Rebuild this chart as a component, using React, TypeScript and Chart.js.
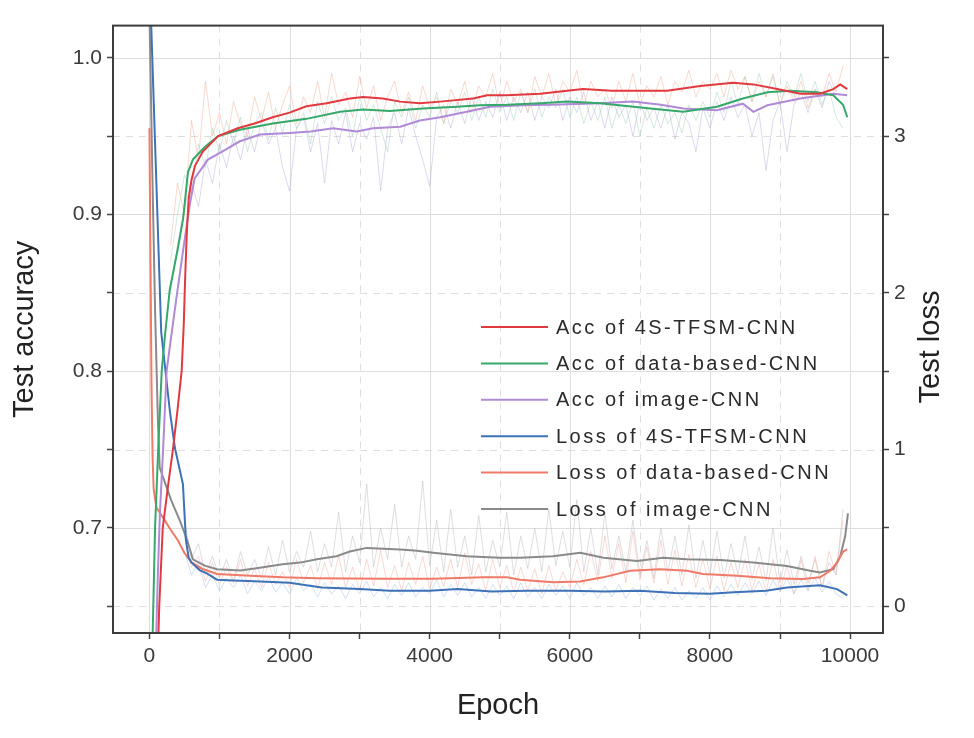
import React, { useEffect, useRef } from 'react';
import { Chart, registerables } from 'chart.js';

Chart.register(...registerables);

const FONT = '"Liberation Sans", Arial, Helvetica, sans-serif';

// ---- Axis ticks ----
const epochTicks = [0, 1000, 2000, 3000, 4000, 5000, 6000, 7000, 8000, 9000, 10000];
const epochLabels = [0, 2000, 4000, 6000, 8000, 10000];
const epochMinorGrid = [1000, 3000, 5000, 7000, 9000];
const accTicks = [0.65, 0.7, 0.75, 0.8, 0.85, 0.9, 0.95, 1.0];
const accLabels = [0.7, 0.8, 0.9, 1.0];
const lossTicks = [0, 0.5, 1, 1.5, 2, 2.5, 3, 3.5];
const lossLabels = [0, 1, 2, 3];

// ---- Smoothed series ----
const acc4sEpochs = [120, 140, 190, 260, 335, 400, 460, 490, 510, 535, 560, 600, 650, 760, 980, 1260, 1500, 1760, 2000, 2240, 2530, 2860, 3050, 3330, 3580, 3860, 4150, 4620, 4820, 5100, 5580, 5960, 6190, 6600, 7000, 7390, 7860, 8330, 8620, 8960, 9290, 9570, 9760, 9860, 9960];
const acc4sValues = [0.62, 0.65, 0.70, 0.725, 0.75, 0.775, 0.80, 0.83, 0.86, 0.89, 0.91, 0.922, 0.931, 0.94, 0.95, 0.955, 0.958, 0.962, 0.965, 0.969, 0.971, 0.974, 0.975, 0.974, 0.972, 0.971, 0.972, 0.974, 0.976, 0.976, 0.977, 0.979, 0.980, 0.979, 0.979, 0.979, 0.982, 0.984, 0.983, 0.980, 0.977, 0.977, 0.980, 0.983, 0.980];

const accDataEpochs = [40, 55, 80, 125, 175, 220, 290, 400, 480, 550, 620, 790, 980, 1290, 1760, 2240, 2720, 3050, 3430, 3900, 4390, 4720, 5100, 5580, 5960, 6430, 7150, 7620, 8100, 8470, 8820, 9140, 9530, 9760, 9900, 9960];
const accDataValues = [0.62, 0.65, 0.70, 0.75, 0.80, 0.822, 0.852, 0.877, 0.897, 0.927, 0.935, 0.943, 0.95, 0.954, 0.958, 0.961, 0.9655, 0.967, 0.966, 0.9676, 0.9687, 0.9697, 0.970, 0.971, 0.972, 0.971, 0.9676, 0.9655, 0.9687, 0.974, 0.978, 0.979, 0.978, 0.976, 0.970, 0.962];

const accImageEpochs = [90, 120, 150, 195, 245, 310, 380, 480, 575, 645, 835, 1075, 1290, 1580, 2000, 2300, 2620, 2960, 3190, 3580, 3860, 4150, 4530, 4860, 5330, 5720, 6430, 6900, 7300, 7620, 8100, 8470, 8620, 8820, 9290, 9760, 9960];
const accImageValues = [0.62, 0.67, 0.71, 0.75, 0.80, 0.822, 0.845, 0.877, 0.906, 0.923, 0.935, 0.941, 0.9467, 0.951, 0.952, 0.953, 0.955, 0.953, 0.955, 0.956, 0.960, 0.962, 0.9655, 0.9687, 0.9697, 0.970, 0.971, 0.972, 0.970, 0.9676, 0.9665, 0.9707, 0.9655, 0.9697, 0.974, 0.977, 0.976];

const loss4sEpochs = [0, 26, 97, 168, 293, 364, 478, 521, 560, 600, 720, 820, 964, 1200, 1500, 2000, 2460, 3000, 3430, 4000, 4400, 4880, 5380, 6000, 6500, 7000, 7500, 8000, 8340, 8800, 9100, 9570, 9815, 9960];
const loss4sValues = [4.3, 3.70, 2.73, 1.75, 1.24, 1.01, 0.78, 0.42, 0.31, 0.28, 0.23, 0.21, 0.17, 0.165, 0.16, 0.15, 0.12, 0.11, 0.10, 0.10, 0.11, 0.095, 0.10, 0.10, 0.095, 0.10, 0.085, 0.08, 0.09, 0.10, 0.12, 0.135, 0.11, 0.07];

const lossDataEpochs = [0, 15, 30, 45, 60, 100, 217, 300, 407, 500, 600, 750, 964, 1435, 1906, 2391, 3333, 4047, 4761, 5104, 5290, 5761, 6146, 6475, 6860, 7288, 7674, 7902, 8387, 8859, 9330, 9572, 9715, 9815, 9901, 9958];
const lossDataValues = [3.05, 2.2, 1.4, 0.95, 0.75, 0.63, 0.55, 0.49, 0.42, 0.34, 0.28, 0.24, 0.206, 0.196, 0.185, 0.179, 0.176, 0.176, 0.185, 0.185, 0.17, 0.154, 0.158, 0.185, 0.227, 0.237, 0.227, 0.206, 0.196, 0.179, 0.174, 0.185, 0.227, 0.279, 0.35, 0.363];

const lossImageEpochs = [0, 40, 80, 120, 146, 311, 440, 540, 620, 790, 964, 1300, 1600, 1900, 2150, 2390, 2670, 2860, 3100, 3580, 3820, 4050, 4530, 5000, 5290, 5760, 6150, 6480, 6960, 7330, 7670, 8150, 8620, 9100, 9430, 9570, 9760, 9860, 9930, 9970];
const lossImageValues = [3.8, 2.8, 1.9, 1.2, 0.886, 0.676, 0.54, 0.42, 0.30, 0.26, 0.237, 0.229, 0.248, 0.269, 0.279, 0.30, 0.32, 0.35, 0.373, 0.363, 0.354, 0.342, 0.32, 0.31, 0.31, 0.32, 0.342, 0.31, 0.29, 0.31, 0.30, 0.296, 0.279, 0.258, 0.227, 0.216, 0.237, 0.32, 0.447, 0.593];

// ---- Raw (unsmoothed) series ----
const rawAccEpochs = [
  300, 400, 500, 600, 700, 800, 900, 1000, 1100, 1200,
  1300, 1400, 1500, 1600, 1700, 1800, 1900, 2000, 2100, 2200,
  2300, 2400, 2500, 2600, 2700, 2800, 2900, 3000, 3100, 3200,
  3300, 3400, 3500, 3600, 3700, 3800, 3900, 4000, 4100, 4200,
  4300, 4400, 4500, 4600, 4700, 4800, 4900, 5000, 5100, 5200,
  5300, 5400, 5500, 5600, 5700, 5800, 5900, 6000, 6100, 6200,
  6300, 6400, 6500, 6600, 6700, 6800, 6900, 7000, 7100, 7200,
  7300, 7400, 7500, 7600, 7700, 7800, 7900, 8000, 8100, 8200,
  8300, 8400, 8500, 8600, 8700, 8800, 8900, 9000, 9100, 9200,
  9300, 9400, 9500, 9600, 9700, 9800, 9900,
];
const rawAcc4s = [
  0.88, 0.92, 0.90, 0.96, 0.935, 0.985, 0.95, 0.965, 0.945, 0.972,
  0.958, 0.95, 0.975, 0.96, 0.978, 0.955, 0.97, 0.982, 0.958, 0.975,
  0.965, 0.985, 0.962, 0.99, 0.97, 0.978, 0.962, 0.988, 0.968, 0.982,
  0.96, 0.975, 0.985, 0.965, 0.978, 0.96, 0.982, 0.968, 0.975, 0.958,
  0.98, 0.97, 0.985, 0.965, 0.982, 0.975, 0.99, 0.968, 0.985, 0.972,
  0.98, 0.965, 0.988, 0.975, 0.99, 0.97, 0.985, 0.978, 0.992, 0.97,
  0.985, 0.975, 0.98, 0.968, 0.985, 0.972, 0.99, 0.97, 0.982, 0.975,
  0.988, 0.97, 0.985, 0.978, 0.992, 0.975, 0.985, 0.98, 0.99, 0.975,
  0.992, 0.98, 0.988, 0.972, 0.985, 0.975, 0.99, 0.97, 0.982, 0.972,
  0.985, 0.968, 0.98, 0.975, 0.99, 0.978, 0.995,
];
const rawAccData = [
  0.87, 0.90, 0.925, 0.915, 0.945, 0.93, 0.955, 0.94, 0.96, 0.945,
  0.962, 0.94, 0.958, 0.965, 0.948, 0.968, 0.952, 0.97, 0.955, 0.965,
  0.945, 0.972, 0.958, 0.975, 0.96, 0.968, 0.95, 0.975, 0.96, 0.97,
  0.955, 0.94, 0.972, 0.962, 0.975, 0.955, 0.97, 0.962, 0.978, 0.958,
  0.972, 0.965, 0.978, 0.96, 0.975, 0.962, 0.98, 0.965, 0.975, 0.96,
  0.978, 0.965, 0.98, 0.962, 0.975, 0.968, 0.98, 0.962, 0.975, 0.958,
  0.972, 0.96, 0.975, 0.955, 0.97, 0.958, 0.972, 0.95, 0.968, 0.955,
  0.97, 0.958, 0.965, 0.952, 0.97, 0.96, 0.972, 0.962, 0.978, 0.965,
  0.985, 0.97, 0.988, 0.972, 0.99, 0.975, 0.988, 0.97, 0.985, 0.975,
  0.99, 0.972, 0.985, 0.97, 0.98, 0.962, 0.955,
];
const rawAccImage = [
  0.85, 0.88, 0.905, 0.92, 0.905, 0.935, 0.92, 0.945, 0.93, 0.95,
  0.935, 0.955, 0.94, 0.96, 0.945, 0.955, 0.93, 0.915, 0.955, 0.962,
  0.94, 0.958, 0.92, 0.96, 0.945, 0.965, 0.94, 0.958, 0.948, 0.962,
  0.915, 0.955, 0.965, 0.945, 0.968, 0.95, 0.935, 0.918, 0.962, 0.97,
  0.955, 0.972, 0.958, 0.975, 0.96, 0.972, 0.962, 0.978, 0.96, 0.975,
  0.965, 0.978, 0.96, 0.975, 0.968, 0.98, 0.96, 0.975, 0.965, 0.978,
  0.96, 0.972, 0.955, 0.975, 0.962, 0.97, 0.95, 0.972, 0.96, 0.968,
  0.955, 0.97, 0.948, 0.965, 0.958, 0.94, 0.968, 0.955, 0.972, 0.96,
  0.975, 0.962, 0.97, 0.95, 0.965, 0.928, 0.96, 0.972, 0.94, 0.97,
  0.978, 0.965, 0.98, 0.968, 0.985, 0.975, 0.97,
];

const rawLossEpochs = [
  500, 600, 700, 800, 900, 1000, 1100, 1200, 1300, 1400,
  1500, 1600, 1700, 1800, 1900, 2000, 2100, 2200, 2300, 2400,
  2500, 2600, 2700, 2800, 2900, 3000, 3100, 3200, 3300, 3400,
  3500, 3600, 3700, 3800, 3900, 4000, 4100, 4200, 4300, 4400,
  4500, 4600, 4700, 4800, 4900, 5000, 5100, 5200, 5300, 5400,
  5500, 5600, 5700, 5800, 5900, 6000, 6100, 6200, 6300, 6400,
  6500, 6600, 6700, 6800, 6900, 7000, 7100, 7200, 7300, 7400,
  7500, 7600, 7700, 7800, 7900, 8000, 8100, 8200, 8300, 8400,
  8500, 8600, 8700, 8800, 8900, 9000, 9100, 9200, 9300, 9400,
  9500, 9600, 9700, 9800, 9900,
];
const rawLoss4s = [
  0.35, 0.2, 0.28, 0.12, 0.2, 0.1, 0.18, 0.12, 0.2, 0.08,
  0.16, 0.1, 0.19, 0.09, 0.15, 0.08, 0.18, 0.1, 0.14, 0.06,
  0.15, 0.08, 0.13, 0.05, 0.14, 0.08, 0.16, 0.06, 0.12, 0.05,
  0.14, 0.07, 0.15, 0.06, 0.12, 0.08, 0.17, 0.06, 0.14, 0.07,
  0.15, 0.06, 0.12, 0.05, 0.14, 0.07, 0.13, 0.05, 0.15, 0.06,
  0.12, 0.05, 0.14, 0.07, 0.13, 0.05, 0.15, 0.07, 0.12, 0.05,
  0.13, 0.06, 0.14, 0.05, 0.12, 0.07, 0.13, 0.04, 0.11, 0.05,
  0.12, 0.04, 0.1, 0.05, 0.12, 0.04, 0.13, 0.06, 0.14, 0.07,
  0.15, 0.08, 0.16, 0.07, 0.17, 0.09, 0.18, 0.08, 0.17, 0.1,
  0.18, 0.09, 0.16, 0.08, 0.05,
];
const rawLossData = [
  0.45, 0.25, 0.32, 0.16, 0.28, 0.14, 0.25, 0.15, 0.3, 0.13,
  0.24, 0.12, 0.28, 0.14, 0.22, 0.12, 0.3, 0.15, 0.26, 0.11,
  0.28, 0.14, 0.32, 0.12, 0.25, 0.1, 0.3, 0.13, 0.36, 0.12,
  0.26, 0.1, 0.28, 0.14, 0.32, 0.11, 0.25, 0.13, 0.3, 0.12,
  0.34, 0.14, 0.27, 0.1, 0.3, 0.12, 0.26, 0.09, 0.25, 0.1,
  0.24, 0.08, 0.26, 0.1, 0.22, 0.12, 0.3, 0.14, 0.35, 0.16,
  0.45, 0.18, 0.4, 0.15, 0.48, 0.17, 0.38, 0.15, 0.42, 0.14,
  0.36, 0.13, 0.33, 0.12, 0.3, 0.11, 0.32, 0.1, 0.28, 0.12,
  0.3, 0.1, 0.27, 0.09, 0.3, 0.1, 0.26, 0.08, 0.3, 0.1,
  0.32, 0.12, 0.35, 0.2, 0.55,
];
const rawLossImage = [
  0.55, 0.3, 0.4, 0.2, 0.32, 0.18, 0.3, 0.16, 0.35, 0.2,
  0.3, 0.18, 0.38, 0.2, 0.42, 0.22, 0.35, 0.25, 0.48, 0.22,
  0.4, 0.25, 0.6, 0.22, 0.45, 0.28, 0.78, 0.25, 0.5, 0.3,
  0.65, 0.25, 0.45, 0.3, 0.8, 0.26, 0.55, 0.22, 0.62, 0.25,
  0.45, 0.2, 0.58, 0.22, 0.42, 0.25, 0.6, 0.2, 0.45, 0.24,
  0.5, 0.22, 0.62, 0.26, 0.48, 0.25, 0.68, 0.22, 0.5, 0.2,
  0.6, 0.24, 0.45, 0.22, 0.55, 0.2, 0.42, 0.18, 0.5, 0.22,
  0.45, 0.2, 0.52, 0.18, 0.42, 0.2, 0.48, 0.18, 0.4, 0.2,
  0.45, 0.17, 0.38, 0.16, 0.5, 0.15, 0.36, 0.14, 0.32, 0.15,
  0.3, 0.12, 0.28, 0.2, 0.62,
];

const seriesNames = [
  'Acc of 4S-TFSM-CNN',
  'Acc of data-based-CNN',
  'Acc of image-CNN',
  'Loss of 4S-TFSM-CNN',
  'Loss of data-based-CNN',
  'Loss of image-CNN',
];
const seriesColors = ['#e2393f', '#35a86a', '#b08ad6', '#3e72b6', '#f07a68', '#8a8a8a'];
const rawColors = [
  'rgba(240,165,140,0.42)',
  'rgba(140,200,165,0.38)',
  'rgba(175,165,215,0.42)',
  'rgba(150,180,230,0.42)',
  'rgba(240,165,155,0.42)',
  'rgba(185,185,195,0.48)',
];

const pts = (xs: number[], ys: number[]) => xs.map((x, i) => ({ x, y: ys[i] }));

const gridPlugin = {
  id: 'customGrid',
  beforeDatasetsDraw(chart: any) {
    const { ctx, chartArea, scales } = chart;
    const { left, right, top, bottom } = chartArea;
    ctx.save();
    ctx.beginPath();
    ctx.rect(left, top, right - left, bottom - top);
    ctx.clip();
    ctx.lineWidth = 1;
    ctx.strokeStyle = '#dedede';
    ctx.setLineDash([]);
    epochLabels.forEach((v) => {
      const x = Math.round(scales.x.getPixelForValue(v)) + 0.5;
      ctx.beginPath(); ctx.moveTo(x, top); ctx.lineTo(x, bottom); ctx.stroke();
    });
    accLabels.forEach((v) => {
      const y = Math.round(scales.y.getPixelForValue(v)) + 0.5;
      ctx.beginPath(); ctx.moveTo(left, y); ctx.lineTo(right, y); ctx.stroke();
    });
    ctx.setLineDash([7, 6]);
    epochMinorGrid.forEach((v) => {
      const x = Math.round(scales.x.getPixelForValue(v)) + 0.5;
      ctx.beginPath(); ctx.moveTo(x, top); ctx.lineTo(x, bottom); ctx.stroke();
    });
    lossLabels.forEach((v) => {
      const y = Math.round(scales.y1.getPixelForValue(v)) + 0.5;
      ctx.beginPath(); ctx.moveTo(left, y); ctx.lineTo(right, y); ctx.stroke();
    });
    ctx.restore();
  },
};

const framePlugin = {
  id: 'frame',
  afterDatasetsDraw(chart: any) {
    const { ctx, chartArea } = chart;
    const { left, right, top, bottom } = chartArea;
    ctx.save();
    ctx.strokeStyle = '#3c3c3c';
    ctx.lineWidth = 2;
    ctx.strokeRect(left, top, right - left, bottom - top);
    ctx.restore();
  },
};

const legendPlugin = {
  id: 'insideLegend',
  afterDatasetsDraw(chart: any) {
    const { ctx } = chart;
    ctx.save();
    ctx.font = `20px ${FONT}`;
    (ctx as any).letterSpacing = '2.5px';
    ctx.textBaseline = 'middle';
    ctx.textAlign = 'left';
    for (let i = 0; i < seriesNames.length; i++) {
      const ds = chart.data.datasets[i];
      const y = 319 + i * 36.4;
      ctx.strokeStyle = ds.borderColor;
      ctx.lineWidth = 2;
      ctx.beginPath();
      ctx.moveTo(473, y);
      ctx.lineTo(540, y);
      ctx.stroke();
      ctx.fillStyle = '#2a2a2a';
      ctx.fillText(ds.label, 548, y + 1);
    }
    ctx.restore();
  },
};

const rightTitlePlugin = {
  id: 'rightTitle',
  afterDraw(chart: any) {
    const { ctx } = chart;
    ctx.save();
    ctx.translate(923, 339);
    ctx.rotate(-Math.PI / 2);
    ctx.font = `29px ${FONT}`;
    ctx.fillStyle = '#222';
    ctx.textAlign = 'center';
    ctx.textBaseline = 'middle';
    ctx.fillText('Test loss', 0, 0);
    ctx.restore();
  },
};

export default function App() {
  const canvasRef = useRef<HTMLCanvasElement | null>(null);

  useEffect(() => {
    if (!canvasRef.current) return;
    const smooth = [
      { data: pts(acc4sEpochs, acc4sValues), axis: 'y' },
      { data: pts(accDataEpochs, accDataValues), axis: 'y' },
      { data: pts(accImageEpochs, accImageValues), axis: 'y' },
      { data: pts(loss4sEpochs, loss4sValues), axis: 'y1' },
      { data: pts(lossDataEpochs, lossDataValues), axis: 'y1' },
      { data: pts(lossImageEpochs, lossImageValues), axis: 'y1' },
    ].map((s, i) => ({
      label: seriesNames[i],
      data: s.data,
      yAxisID: s.axis,
      borderColor: seriesColors[i],
      borderWidth: 2,
      pointRadius: 0,
      fill: false,
      order: 0,
    }));
    const raw = [
      { data: pts(rawAccEpochs, rawAcc4s), axis: 'y' },
      { data: pts(rawAccEpochs, rawAccData), axis: 'y' },
      { data: pts(rawAccEpochs, rawAccImage), axis: 'y' },
      { data: pts(rawLossEpochs, rawLoss4s), axis: 'y1' },
      { data: pts(rawLossEpochs, rawLossData), axis: 'y1' },
      { data: pts(rawLossEpochs, rawLossImage), axis: 'y1' },
    ].map((s, i) => ({
      label: 'raw ' + seriesNames[i],
      data: s.data,
      yAxisID: s.axis,
      borderColor: rawColors[i],
      borderWidth: 1,
      pointRadius: 0,
      fill: false,
      order: 1,
    }));

    const tickFont = { family: FONT, size: 21 };
    const titleFont = { family: FONT, size: 29 };
    const gridOpts = {
      display: true,
      drawOnChartArea: false,
      drawTicks: true,
      tickLength: 6,
      tickColor: '#444',
      tickWidth: 1.5,
    };

    const chart = new Chart(canvasRef.current, {
      type: 'line',
      data: { datasets: [...smooth, ...raw] as any },
      options: {
        responsive: false,
        animation: false,
        layout: { padding: { top: 6, left: 0, right: 0, bottom: 0 } },
        elements: { line: { tension: 0 }, point: { radius: 0 } },
        plugins: { legend: { display: false }, tooltip: { enabled: false } },
        scales: {
          x: {
            type: 'linear',
            min: -520,
            max: 10470,
            afterBuildTicks: (s: any) => { s.ticks = epochTicks.map((value) => ({ value })); },
            afterFit: (s: any) => { s.height = 97; },
            grid: gridOpts,
            border: { display: false },
            ticks: {
              autoSkip: false,
              maxRotation: 0,
              padding: 5,
              color: '#3a3a3a',
              font: tickFont,
              callback: (v: any) => (epochLabels.includes(v) ? String(v) : ''),
            },
            title: { display: true, text: 'Epoch', color: '#222', font: titleFont, padding: { top: 0, bottom: 7 } },
          },
          y: {
            type: 'linear',
            position: 'left',
            min: 0.633,
            max: 1.0205,
            afterBuildTicks: (s: any) => { s.ticks = accTicks.map((value) => ({ value })); },
            afterFit: (s: any) => { s.width = 105; },
            grid: gridOpts,
            border: { display: false },
            ticks: {
              autoSkip: false,
              padding: 5,
              color: '#3a3a3a',
              font: tickFont,
              callback: (v: any) => (accLabels.includes(v) ? Number(v).toFixed(1) : ''),
            },
            title: { display: true, text: 'Test accuracy', color: '#222', font: titleFont, padding: { top: 0, bottom: 0 } },
          },
          y1: {
            type: 'linear',
            position: 'right',
            min: -0.17,
            max: 3.705,
            afterBuildTicks: (s: any) => { s.ticks = lossTicks.map((value) => ({ value })); },
            afterFit: (s: any) => { s.width = 83; },
            grid: gridOpts,
            border: { display: false },
            ticks: {
              autoSkip: false,
              padding: 5,
              color: '#3a3a3a',
              font: tickFont,
              callback: (v: any) => (lossLabels.includes(v) ? String(v) : ''),
            },
            title: { display: false },
          },
        },
      } as any,
      plugins: [gridPlugin, framePlugin, legendPlugin, rightTitlePlugin],
    });
    return () => chart.destroy();
  }, []);

  return (
    <div style={{ width: 958, height: 722, background: '#fff' }}>
      <canvas ref={canvasRef} width={958} height={722} style={{ display: 'block' }} />
    </div>
  );
}
